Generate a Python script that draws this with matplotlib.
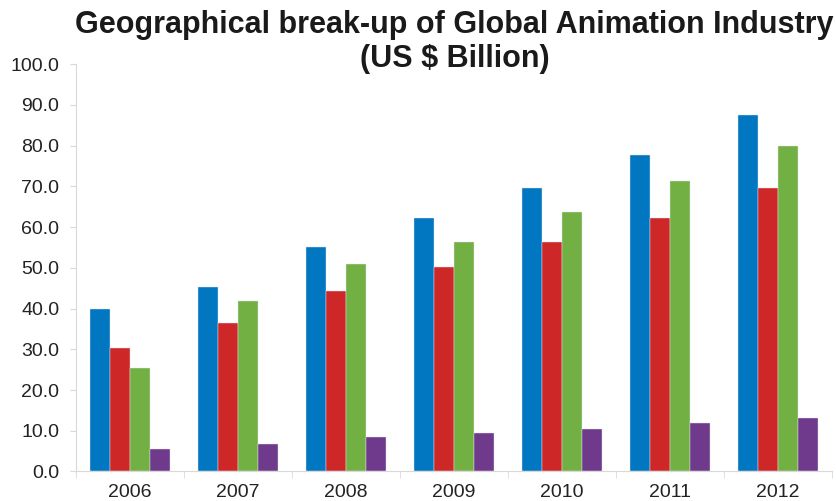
import numpy as np
import matplotlib
matplotlib.use("Agg")
import matplotlib.pyplot as plt

## Data (US $ Billion)
years = ["2006", "2007", "2008", "2009", "2010", "2011", "2012"]
blue = [40.0, 45.4, 55.2, 62.2, 69.7, 77.6, 87.6]
red = [30.4, 36.4, 44.3, 50.1, 56.4, 62.2, 69.7]
green = [25.4, 41.8, 51.0, 56.4, 63.7, 71.3, 80.0]
purple = [5.5, 6.8, 8.4, 9.5, 10.4, 11.8, 13.2]
colors = ["#0077C0", "#CE2727", "#72B043", "#6F3A8B"]
title_lines = ["Geographical break-up of Global Animation Industry", "(US $ Billion)"]

plt.rcParams['font.family'] = ['Liberation Sans', 'DejaVu Sans']

W, H = 837, 501
fig = plt.figure(figsize=(W / 100, H / 100), dpi=100)
ax = fig.add_axes([0.0908, 0.0589, 0.903, 0.813])

x = np.arange(len(years))
w = 0.185
for i, (vals, c) in enumerate(zip([blue, red, green, purple], colors)):
    ax.bar(x + (i - 1.5) * w, vals, w, color=c, edgecolor="#E6E6F0", linewidth=0.3)

ax.set_xlim(-0.5, len(years) - 0.5)
ax.set_ylim(0, 100)
ax.set_yticks(np.arange(0, 101, 10))
ax.set_yticklabels([f"{v:.1f}" for v in np.arange(0, 101, 10)], fontsize=14, color="#222222")
ax.set_xticks(x)
ax.set_xticklabels(years, fontsize=14, color="#222222")
ax.set_xticks(np.arange(-0.5, len(years)), minor=True)
ax.tick_params(axis="x", which="major", length=0, pad=9)
ax.tick_params(axis="x", which="minor", length=5, color="#D9D9D9", direction="out")
ax.tick_params(axis="y", length=4, color="#D9D9D9", pad=8)

for s in ["top", "right"]:
    ax.spines[s].set_visible(False)
for s in ["left", "bottom"]:
    ax.spines[s].set_color("#D9D9D9")

# title: two lines placed by baseline (pixels from top)
for line, yb in zip(title_lines, [33, 67]):
    fig.text(454.5 / W, 1 - yb / H, line, ha="center", va="baseline",
             fontsize=22, fontweight="bold", color="#1A1A1A")

fig.savefig("out.png", dpi=100)
